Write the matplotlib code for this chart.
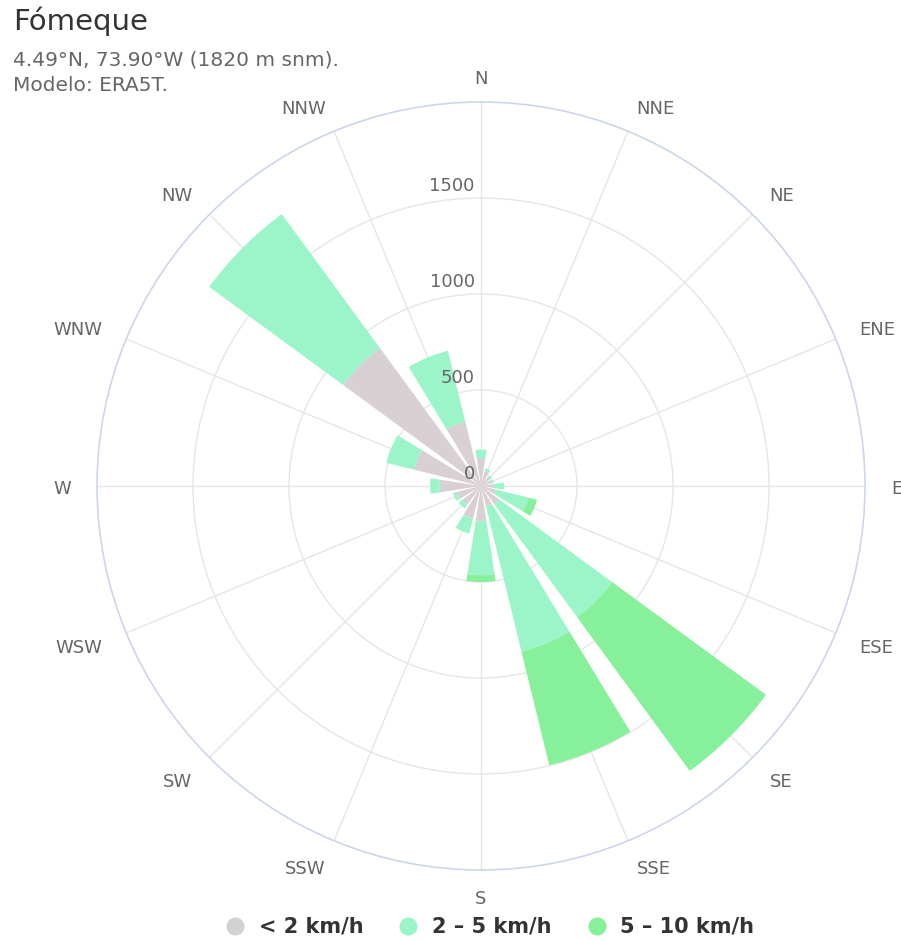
import numpy as np
import matplotlib
matplotlib.use("Agg")
import matplotlib.pyplot as plt
from matplotlib.lines import Line2D

# wind rose data (hours per direction, stacked by speed class)
directions = ["N", "NNE", "NE", "ENE", "E", "ESE", "SE", "SSE",
              "S", "SSW", "SW", "WSW", "W", "WNW", "NW", "NNW"]
speed_lt2 = [145, 80, 60, 60, 70, 80, 120, 110, 185, 175, 120, 130, 215, 358, 890, 345]
speed_2_5 = [45, 15, 10, 10, 50, 175, 727, 777, 280, 80, 25, 20, 50, 150, 865, 380]
speed_5_10 = [0, 0, 0, 0, 0, 45, 993, 610, 35, 0, 0, 0, 0, 0, 0, 0]
series_labels = ["< 2 km/h", "2 \u2013 5 km/h", "5 \u2013 10 km/h"]
series_colors = ["#d8d0d2", "#9cf5c9", "#86f09a"]
legend_colors = ["#d2d2d2", "#9cf5c9", "#86f09a"]
radial_ticks = [0, 500, 1000, 1500]
r_max = 2000

W, H = 901, 940
fig = plt.figure(figsize=(W / 100, H / 100), dpi=100)

cx, cy, R = 481, 486, 384
ax = fig.add_axes([(cx - R) / W, (H - cy - R) / H, 2 * R / W, 2 * R / H],
                  projection="polar")
ax.set_theta_zero_location("N")
ax.set_theta_direction(-1)
ax.set_ylim(0, r_max)

theta = np.deg2rad(np.arange(len(directions)) * 22.5)
width = np.deg2rad(22.5 * 0.78)

ax.set_axisbelow(True)
ax.set_xticks(theta)
ax.set_xticklabels([])
ax.set_yticks([500, 1000, 1500])
ax.set_yticklabels([])
ax.grid(color="#e6e6e6", lw=1)
ax.spines["polar"].set_color("#ccd6eb")
ax.spines["polar"].set_linewidth(1.2)

bottom = np.zeros(len(directions))
for vals, col in zip([speed_lt2, speed_2_5, speed_5_10], series_colors):
    vals = np.array(vals, dtype=float)
    ax.bar(theta, vals, width=width, bottom=bottom, color=col,
           edgecolor="none", linewidth=0, zorder=2)
    bottom += vals

# direction labels: anchored just outside the ring, aligned away from it
for t, d in zip(theta, directions):
    s, c = np.sin(t), np.cos(t)
    dist = R + 20 + 6 * abs(s)
    x_px = cx + dist * s
    y_px = cy - dist * c - 5.5 * c + 3
    ha = "left" if s > 0.2 else ("right" if s < -0.2 else "center")
    fig.text(x_px / W, 1 - y_px / H, d, ha=ha, va="center", fontsize=13,
             color="#666666")

# radial labels along the north spoke
for r in radial_ticks:
    ax.annotate(str(r), xy=(0, r), xytext=(-4.5, 2.5), textcoords="offset points",
                ha="right", va="bottom", fontsize=13, color="#666666")

fig.text(13 / W, 1 - 30 / H, "F\u00f3meque", fontsize=21, color="#333333",
         va="baseline", ha="left")
fig.text(13 / W, 1 - 65 / H, "4.49\u00b0N, 73.90\u00b0W (1820 m snm).",
         fontsize=14.5, color="#666666", va="baseline", ha="left")
fig.text(13 / W, 1 - 91 / H, "Modelo: ERA5T.", fontsize=14.5,
         color="#666666", va="baseline", ha="left")

handles = [Line2D([], [], marker="o", ls="", ms=13, mfc=c, mec="none")
           for c in legend_colors]
fig.legend(handles, series_labels, loc="center",
           bbox_to_anchor=(490 / W, 1 - 927 / H), ncol=3, frameon=False,
           prop=dict(weight="bold", size=15), labelcolor="#333333",
           handlelength=0.9, handletextpad=0.7, columnspacing=1.7)

fig.savefig("out.png", dpi=100)
